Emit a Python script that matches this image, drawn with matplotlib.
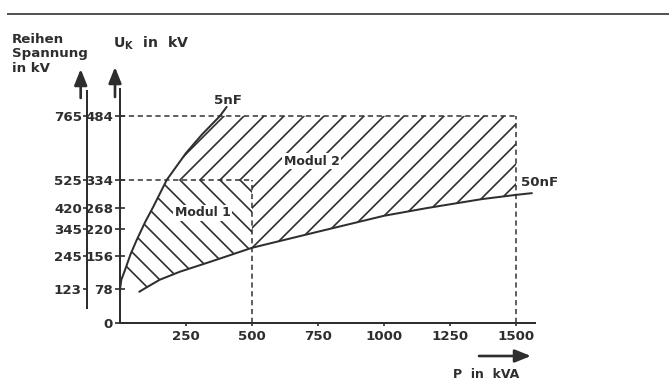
import numpy as np
import matplotlib
matplotlib.use('Agg')
import matplotlib.pyplot as plt
from matplotlib.lines import Line2D

# Werte
p_ticks = [250, 500, 750, 1000, 1250, 1500]
uk_ticks = [0, 78, 156, 220, 268, 334, 484]
uk_labels = ['0', '78', '156', '220', '268', '334', '484']
reihen_ticks = [78, 156, 220, 268, 334, 484]
reihen_labels = ['123', '245', '345', '420', '525', '765']

# Kurve 5 nF (obere Grenze)
upper_p = [0, 5, 19, 40, 63, 95, 126, 177, 250, 310, 379, 404]
upper_u = [78, 100, 123, 160, 193, 235, 271, 334, 397, 440, 484, 505]

# Kurve 50 nF (untere Grenze)
lower_p = [73, 100, 150, 227, 341, 500, 732, 1000, 1162, 1370, 1500, 1560]
lower_u = [72, 82, 100, 119, 142, 175, 210, 250, 268, 289, 299, 303]

# Modulgrenzen
p_mod1, u_mod1 = 500, 334
p_mod2, u_mod2 = 1500, 484

INK = '#2e2e2e'
DPI = 120
W, H = 669, 392

plt.rcParams['font.family'] = ['DejaVu Sans']
plt.rcParams['font.weight'] = 'bold'
plt.rcParams['hatch.linewidth'] = 1.0
plt.rcParams['hatch.color'] = INK
plt.rcParams['mathtext.fontset'] = 'dejavusans'

fig = plt.figure(figsize=(W / DPI, H / DPI), dpi=DPI)

# Hauptachse (U_K ueber P)
x0, x1 = 120, 534.5
y0, y1 = 322.5, 89
ax = fig.add_axes([x0 / W, 1 - y0 / H, (x1 - x0) / W, (y0 - y1) / H])
ax.set_xlim(0, 1570)
ax.set_ylim(0, 547)

up = np.array(upper_p)
uu = np.array(upper_u)
lp = np.array(lower_p)
lu = np.array(lower_u)

# Modul 1: zwischen den Kurven bis 500 kVA / 334 kV
m_up = (up >= 19) & (up <= 177)
m_lo = lp <= p_mod1
poly1_x = list(up[m_up]) + [p_mod1, p_mod1] + list(lp[m_lo][::-1])
poly1_y = list(uu[m_up]) + [u_mod1, np.interp(p_mod1, lp, lu)] + list(lu[m_lo][::-1])
ax.fill(poly1_x, poly1_y, facecolor='none', edgecolor=INK, lw=0, hatch='\\\\', zorder=1)

# Modul 2: bis 1500 kVA / 484 kV
m_up2 = (up >= 177) & (up <= 379)
m_lo2 = (lp >= p_mod1) & (lp <= p_mod2)
poly2_x = list(up[m_up2]) + [p_mod2, p_mod2] + list(lp[m_lo2][::-1]) + [p_mod1]
poly2_y = list(uu[m_up2]) + [u_mod2, np.interp(p_mod2, lp, lu)] + list(lu[m_lo2][::-1]) + [u_mod1]
ax.fill(poly2_x, poly2_y, facecolor='none', edgecolor=INK, lw=0, hatch='//', zorder=1)

# Kurven
ax.plot(upper_p, upper_u, color=INK, lw=1.2, zorder=3, solid_capstyle='round')
ax.plot(lower_p, lower_u, color=INK, lw=1.2, zorder=3, solid_capstyle='round')

# gestrichelte Grenzlinien
dash = dict(color=INK, lw=0.9, linestyle=(0, (3.5, 2.4)), zorder=2)
ax.plot([0, p_mod2], [u_mod2, u_mod2], **dash)
ax.plot([0, p_mod1], [u_mod1, u_mod1], **dash)
ax.plot([p_mod1, p_mod1], [0, u_mod1], **dash)
ax.plot([p_mod2, p_mod2], [0, u_mod2], **dash)

# Beschriftungen im Diagramm
ax.text(314, 257, 'Modul 1', fontsize=7.5, ha='center', va='center', color=INK,
        bbox=dict(fc='white', ec='none', pad=1.0), zorder=4)
ax.text(727, 378, 'Modul 2', fontsize=7.5, ha='center', va='center', color=INK,
        bbox=dict(fc='white', ec='none', pad=1.0), zorder=4)
ax.text(409, 521, '5nF', fontsize=8, ha='center', va='center', color=INK)
ax.text(1518, 329, '50nF', fontsize=8, ha='left', va='center', color=INK, clip_on=False)

# Achsen
for s in ['top', 'right']:
    ax.spines[s].set_visible(False)
for s in ['left', 'bottom']:
    ax.spines[s].set_linewidth(1.2)
    ax.spines[s].set_color(INK)
ax.set_xticks(p_ticks)
ax.set_xticklabels([str(v) for v in p_ticks])
ax.set_yticks(uk_ticks)
ax.set_yticklabels(uk_labels)
ax.tick_params(axis='y', direction='inout', length=6, width=1.0, pad=1.2,
               labelsize=8, colors=INK)
ax.tick_params(axis='x', direction='out', length=2, width=1.0, pad=2.5,
               labelsize=8, colors=INK)

# zweite Achse: Reihenspannung
xr = 86.7
ax2 = fig.add_axes([xr / W, 1 - y0 / H, 0.001, (y0 - y1) / H])
ax2.set_ylim(0, 547)
ax2.patch.set_visible(False)
for s in ['top', 'right', 'bottom']:
    ax2.spines[s].set_visible(False)
ax2.spines['left'].set_bounds(34, 543)
ax2.spines['left'].set_linewidth(1.2)
ax2.spines['left'].set_color(INK)
ax2.set_xticks([])
ax2.set_yticks(reihen_ticks)
ax2.set_yticklabels(reihen_labels)
ax2.tick_params(axis='y', direction='out', length=2.4, width=1.0, pad=0.6,
                labelsize=8, colors=INK)

# Pfeile und Achsentitel
arrow = dict(arrowstyle='-|>,head_length=0.8,head_width=0.32', color=INK, lw=1.6,
             shrinkA=0, shrinkB=0, mutation_scale=10)
ax.annotate('', xy=(80.7, H - 69), xytext=(80.7, H - 98), xycoords='figure pixels',
            textcoords='figure pixels', arrowprops=arrow)
ax.annotate('', xy=(115, H - 67), xytext=(115, H - 97), xycoords='figure pixels',
            textcoords='figure pixels', arrowprops=arrow)
ax.annotate('', xy=(531, H - 356), xytext=(479, H - 356), xycoords='figure pixels',
            textcoords='figure pixels', arrowprops=arrow)

fig.text(12 / W, 1 - 33 / H, 'Reihen\nSpannung\nin kV', fontsize=8, ha='left', va='top',
         linespacing=1.15, color=INK)
fig.text(113 / W, 1 - 43 / H, r'U$_\mathbf{K}$  in  kV', fontsize=8.5, ha='left',
         va='center', color=INK)
fig.text(453 / W, 1 - 374 / H, 'P  in  kVA', fontsize=7.5, ha='left', va='center', color=INK)

# Trennlinie oben
fig.add_artist(Line2D([8 / W, 1], [1 - 14 / H, 1 - 14 / H], transform=fig.transFigure,
                      color='#555555', lw=1.2))

fig.savefig('out.png', dpi=DPI, facecolor='white')
